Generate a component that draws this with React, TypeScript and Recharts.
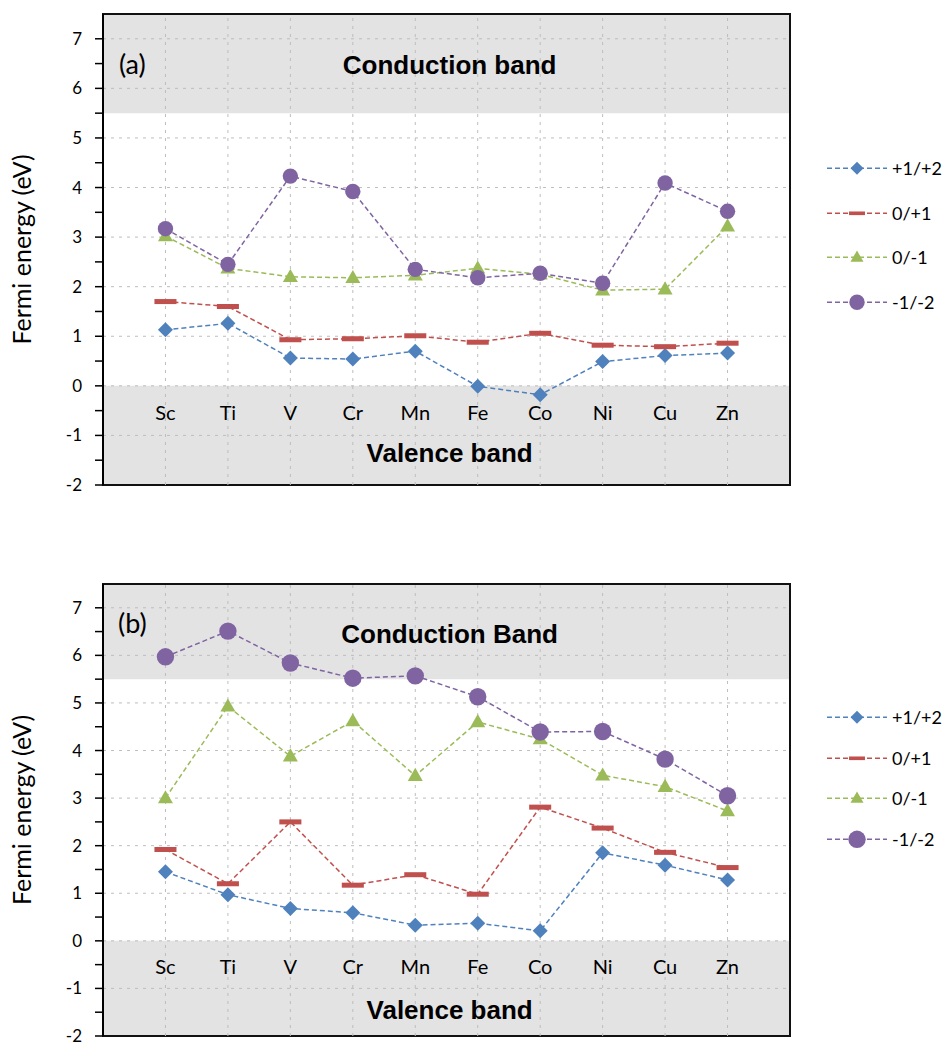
import { Legend, Line, LineChart, ReferenceArea, ReferenceDot, ReferenceLine, XAxis, YAxis } from 'recharts'

const elements = ['Sc', 'Ti', 'V', 'Cr', 'Mn', 'Fe', 'Co', 'Ni', 'Cu', 'Zn']
const seriesNames = ['+1/+2', '0/+1', '0/-1', '-1/-2']
const yTicks = [-2, -1.5, -1, -0.5, 0, 0.5, 1, 1.5, 2, 2.5, 3, 3.5, 4, 4.5, 5, 5.5, 6, 6.5, 7]
const gridRows = [-1, 0, 1, 2, 3, 4, 5, 6, 7]
const gridCols = [1, 2, 3, 4, 5, 6, 7, 8, 9, 10]

// (a) transition levels, eV
const aPlus1Plus2 = [1.13, 1.26, 0.56, 0.54, 0.7, -0.01, -0.18, 0.49, 0.61, 0.66]
const aZeroPlus1 = [1.7, 1.6, 0.93, 0.95, 1.01, 0.88, 1.06, 0.82, 0.79, 0.86]
const aZeroMinus1 = [3.02, 2.37, 2.2, 2.18, 2.23, 2.37, 2.25, 1.93, 1.95, 3.22]
const aMinus1Minus2 = [3.17, 2.45, 4.23, 3.92, 2.35, 2.18, 2.27, 2.07, 4.09, 3.52]

// (b) transition levels, eV
const bPlus1Plus2 = [1.45, 0.97, 0.68, 0.59, 0.33, 0.37, 0.21, 1.85, 1.59, 1.28]
const bZeroPlus1 = [1.92, 1.2, 2.5, 1.17, 1.39, 0.98, 2.81, 2.37, 1.86, 1.54]
const bZeroMinus1 = [3.0, 4.93, 3.88, 4.62, 3.47, 4.6, 4.24, 3.48, 3.24, 2.73]
const bMinus1Minus2 = [5.97, 6.51, 5.84, 5.52, 5.57, 5.13, 4.39, 4.4, 3.82, 3.05]

const styles = [
  { key: 'p1p2', color: '#4f81bd', marker: 'diamond' },
  { key: 'z0p1', color: '#c0504d', marker: 'bar' },
  { key: 'z0m1', color: '#9bbb59', marker: 'triangle' },
  { key: 'm1m2', color: '#8064a2', marker: 'circle' },
]

const buildRows = (p1p2: number[], z0p1: number[], z0m1: number[], m1m2: number[]) =>
  elements.map((el, i) => ({ el, x: i + 1, p1p2: p1p2[i], z0p1: z0p1[i], z0m1: z0m1[i], m1m2: m1m2[i] }))

const rowsA = buildRows(aPlus1Plus2, aZeroPlus1, aZeroMinus1, aMinus1Minus2)
const rowsB = buildRows(bPlus1Plus2, bZeroPlus1, bZeroMinus1, bMinus1Minus2)

const tickFont = 'Lato, "Open Sans", sans-serif'
const bandFont = '"Liberation Sans", Arial, sans-serif'
const gridColor = '#bdbdbd'

function Marker({ kind, cx, cy, color, r }: { kind: string; cx: number; cy: number; color: string; r: number }) {
  if (cx == null || cy == null) return null
  if (kind === 'diamond') {
    return <polygon points={`${cx},${cy - r} ${cx + r},${cy} ${cx},${cy + r} ${cx - r},${cy}`} fill={color} />
  }
  if (kind === 'bar') {
    return <rect x={cx - r * 1.45} y={cy - r * 0.33} width={r * 2.9} height={r * 0.66} fill={color} />
  }
  if (kind === 'triangle') {
    return <polygon points={`${cx},${cy - r * 1.05} ${cx + r},${cy + r * 0.7} ${cx - r},${cy + r * 0.7}`} fill={color} />
  }
  return <circle cx={cx} cy={cy} r={r} fill={color} />
}

function AxisTitle({ viewBox }: any) {
  const cy = viewBox.y + viewBox.height / 2
  return (
    <text transform={`translate(31, ${cy}) rotate(-90)`} textAnchor="middle" fontFamily={tickFont} fontSize={25} fill="#000">
      Fermi energy (eV)
    </text>
  )
}

function TextMark({ cx, cy, text, size, bold }: any) {
  return (
    <text
      x={cx}
      y={cy}
      textAnchor="middle"
      dominantBaseline="central"
      fontFamily={bold ? bandFont : tickFont}
      fontWeight={bold ? 'bold' : 'normal'}
      fontSize={size}
      fill="#000"
    >
      {text}
    </text>
  )
}

function LegendRows({ payload, gap, circleR }: any) {
  return (
    <div>
      {(payload ?? []).map((entry: any) => {
        const st = styles[seriesNames.indexOf(entry.value)]
        const r = st.marker === 'circle' ? circleR : st.marker === 'bar' ? 5.5 : 6.5
        return (
          <div key={entry.value} style={{ height: gap, display: 'flex', alignItems: 'center' }}>
            <svg width={62} height={gap} style={{ display: 'block' }}>
              <line x1={1} x2={61} y1={gap / 2} y2={gap / 2} stroke={st.color} strokeWidth={1.5} strokeDasharray="5 3" />
              <Marker kind={st.marker} cx={31} cy={gap / 2} color={st.color} r={r} />
            </svg>
            <span style={{ marginLeft: 4, fontFamily: tickFont, fontSize: 18, color: '#000' }}>{entry.value}</span>
          </div>
        )
      })}
    </div>
  )
}

type PanelProps = {
  rows: any[]
  tag: string
  tagY: number
  conduction: string
  conductionY: number
  valenceY: number
  height: number
  marginTop: number
  marginBottom: number
  circleR: number
  legendTop: number
  legendGap: number
}

function Panel(p: PanelProps) {
  return (
    <LineChart
      width={947}
      height={p.height}
      data={p.rows}
      margin={{ top: p.marginTop, right: 157, bottom: p.marginBottom, left: 0 }}
      style={{ fontFamily: tickFont }}
    >
      <XAxis dataKey="x" type="number" domain={[0, 11]} ticks={gridCols} height={0} tick={false} axisLine={false} tickLine={false} />
      <YAxis
        type="number"
        domain={[-2, 7.5]}
        ticks={yTicks}
        interval={0}
        width={103}
        tickSize={8}
        tickMargin={13}
        tickFormatter={(v: number) => (Number.isInteger(v) ? String(v) : '')}
        tick={{ fill: '#000', fontSize: 17, fontFamily: tickFont }}
        axisLine={{ stroke: '#000', strokeWidth: 2 }}
        tickLine={{ stroke: '#000', strokeWidth: 1.5 }}
        label={<AxisTitle />}
      />
      {/* conduction and valence band shading */}
      <ReferenceArea x1={0} x2={11} y1={5.5} y2={7.5} fill="#e3e3e3" fillOpacity={1} stroke="none" />
      <ReferenceArea x1={0} x2={11} y1={-2} y2={0} fill="#e3e3e3" fillOpacity={1} stroke="none" />
      {gridRows.map((v) => (
        <ReferenceLine key={`h${v}`} y={v} stroke={gridColor} strokeDasharray="3 5" />
      ))}
      {gridCols.map((v) => (
        <ReferenceLine key={`v${v}`} x={v} stroke={gridColor} strokeDasharray="3 5" />
      ))}
      <ReferenceArea x1={0} x2={11} y1={-2} y2={7.5} fill="none" stroke="#111" strokeWidth={2} />
      <ReferenceDot x={0.47} y={p.tagY} r={0} shape={(s: any) => <TextMark {...s} text={p.tag} size={27} />} />
      <ReferenceDot x={5.55} y={p.conductionY} r={0} shape={(s: any) => <TextMark {...s} text={p.conduction} size={26} bold />} />
      <ReferenceDot x={5.55} y={p.valenceY} r={0} shape={(s: any) => <TextMark {...s} text="Valence band" size={26} bold />} />
      {p.rows.map((row) => (
        <ReferenceDot key={row.el} x={row.x} y={-0.53} r={0} shape={(s: any) => <TextMark {...s} text={row.el} size={20} />} />
      ))}
      {styles.map((st, i) => (
        <Line
          key={st.key}
          dataKey={st.key}
          name={seriesNames[i]}
          stroke={st.color}
          strokeWidth={1.5}
          strokeDasharray="5 3"
          isAnimationActive={false}
          activeDot={false}
          dot={(d: any) => (
            <Marker key={`${st.key}-${d.index}`} kind={st.marker} cx={d.cx} cy={d.cy} color={st.color} r={st.marker === 'circle' ? p.circleR : st.marker === 'bar' ? 7.6 : 7.5} />
          )}
        />
      ))}
      <Legend
        layout="horizontal"
        verticalAlign="middle"
        align="center"
        itemSorter={(item: any) => seriesNames.indexOf(item.value)}
        wrapperStyle={{ left: 826, top: p.legendTop, width: 120 }}
        content={(lp: any) => <LegendRows payload={lp.payload} gap={p.legendGap} circleR={p.circleR} />}
      />
    </LineChart>
  )
}

export default function App() {
  return (
    <div style={{ position: 'absolute', left: 0, top: 0, width: 947, height: 1048, background: '#fff' }}>
      <Panel
        rows={rowsA}
        tag="(a)"
        tagY={6.51}
        conduction="Conduction band"
        conductionY={6.47}
        valenceY={-1.35}
        height={530}
        marginTop={14}
        marginBottom={45}
        circleR={7.7}
        legendTop={146}
        legendGap={44.6}
      />
      <div style={{ position: 'absolute', left: 0, top: 560 }}>
        <Panel
          rows={rowsB}
          tag="(b)"
          tagY={6.7}
          conduction="Conduction Band"
          conductionY={6.45}
          valenceY={-1.45}
          height={488}
          marginTop={24}
          marginBottom={12}
          circleR={8.7}
          legendTop={137}
          legendGap={40.6}
        />
      </div>
    </div>
  )
}
